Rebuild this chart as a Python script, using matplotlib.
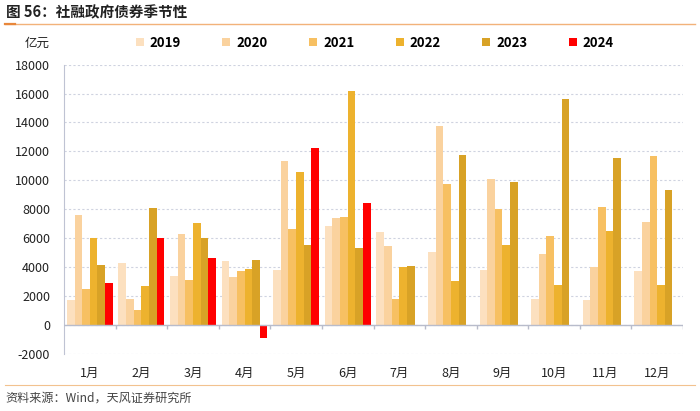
import matplotlib
matplotlib.use("Agg")
import matplotlib.pyplot as plt
import numpy as np
from matplotlib.lines import Line2D

plt.rcParams['font.family'] = ['Noto Sans CJK SC', 'DejaVu Sans']

months = ["1月", "2月", "3月", "4月", "5月", "6月", "7月", "8月", "9月", "10月", "11月", "12月"]
years = ["2019", "2020", "2021", "2022", "2023", "2024"]
v2019 = [1700, 4300, 3400, 4400, 3800, 6850, 6400, 5050, 3750, 1800, 1700, 3700]
v2020 = [7600, 1800, 6300, 3300, 11350, 7400, 5450, 13750, 10100, 4880, 3970, 7100]
v2021 = [2450, 1000, 3100, 3700, 6650, 7450, 1750, 9750, 8040, 6140, 8160, 11670]
v2022 = [6000, 2700, 7050, 3850, 10550, 16200, 3970, 3020, 5480, 2730, 6490, 2770]
v2023 = [4100, 8100, 6000, 4500, 5500, 5300, 4060, 11740, 9890, 15620, 11510, 9330]
v2024 = [2900, 6000, 4600, -900, 12250, 8450, np.nan, np.nan, np.nan, np.nan, np.nan, np.nan]
series = [v2019, v2020, v2021, v2022, v2023, v2024]
colors = ["#FCE0BF", "#FAD29E", "#F7C062", "#EDB22E", "#D8A226", "#FF0000"]

fig = plt.figure(figsize=(7, 4.11), dpi=100)
ax = fig.add_axes([64/700, 1-353.5/411, (683-64)/700, (353.5-64.7)/411])

x = np.arange(len(months))
bw = 0.148
offsets = (np.arange(6) - 2.5) * bw
for i, (vals, c) in enumerate(zip(series, colors)):
    ax.bar(x + offsets[i], vals, width=bw, color=c, label=years[i], zorder=3, linewidth=0)

ax.set_xlim(-0.5, 11.5)
ax.set_ylim(-2000, 18000)
ax.set_yticks(np.arange(-2000, 18001, 2000))
ax.set_yticklabels([str(v) for v in range(-2000, 18001, 2000)], fontsize=9, color="#222222")
ax.grid(axis="y", color="#CFD3E0", linestyle=(0, (2, 2)), linewidth=0.8, zorder=0)
for s in ["top", "right", "bottom"]:
    ax.spines[s].set_visible(False)
ax.spines["left"].set_color("#BFC3D3")
ax.tick_params(axis="y", length=0, pad=10)
ax.tick_params(axis="x", length=0, pad=10)
ax.set_xticks(x)
ax.set_xticklabels(months, fontsize=9, color="#222222")

ax.axhline(0, color="#B8BCCB", linewidth=1.0, zorder=4)
bounds = np.arange(-0.5, 12.0, 1.0)
ax.vlines(bounds[1:], -300, 0, color="#B8BCCB", linewidth=1.0, zorder=4)

# legend
handles = [Line2D([0], [0], marker="s", color="w", markerfacecolor=c, markeredgewidth=0, markersize=6)
           for c in colors]
leg = fig.legend(handles, years, loc="center left", bbox_to_anchor=(122/700, 1-43/411), ncol=6,
                 frameon=False, prop={"size": 9.5, "weight": "bold"}, columnspacing=3.0,
                 handlelength=0.9, handletextpad=0.3)

fig.text(25/700, 1-43/411, "亿元", fontsize=9, va="center", ha="left", color="#222222")
fig.text(6/700, 1-12/411, "图 56：社融政府债券季节性", fontsize=10.5, fontweight="bold",
         va="center", ha="left", color="#222222")
fig.add_artist(Line2D([5/700, 695/700], [1-24/411, 1-24/411], color="#F2B27A", linewidth=1.0))
fig.add_artist(Line2D([5/700, 15/700], [1-24/411, 1-24/411], color="#E8873A", linewidth=1.6))
fig.add_artist(Line2D([5/700, 695/700], [1-385/411, 1-385/411], color="#F2C28F", linewidth=0.8))
fig.text(5/700, 1-398/411, "资料来源：Wind，天风证券研究所", fontsize=8.7, va="center", ha="left",
         color="#444444")

fig.savefig("out.png", dpi=100)
